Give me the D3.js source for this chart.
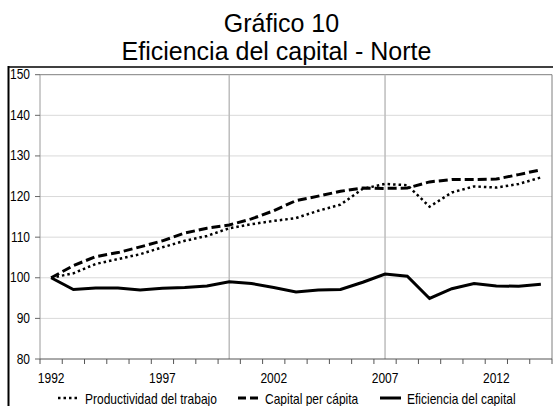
<!DOCTYPE html>
<html>
<head>
<meta charset="utf-8">
<style>
  body { margin: 0; background: #fff; }
  svg { display: block; font-family: 'Liberation Sans', Arial, sans-serif; }
</style>
</head>
<body>
<svg width="553" height="406"></svg>
<script src="https://d3js.org/d3.v7.min.js"></script>
<script>
// data (index 1992 = 100)
const years = ["1992","1993","1994","1995","1996","1997","1998","1999","2000","2001","2002","2003",
               "2004","2005","2006","2007","2008","2009","2010","2011","2012","2013","2014"];
const productividad = [100, 101.1, 103.4, 104.6, 105.8, 107.5, 109.1, 110.3, 112.2, 113.2, 114.0, 114.7,
                       116.5, 118.0, 121.9, 123.1, 122.8, 117.5, 121.0, 122.5, 122.2, 123.1, 124.7];
const capital = [100, 103.0, 105.2, 106.2, 107.6, 109.1, 111.0, 112.2, 113.0, 114.5, 116.5, 119.0,
                 120.1, 121.3, 122.1, 122.0, 122.1, 123.6, 124.2, 124.2, 124.3, 125.4, 126.6];
const eficiencia = [100, 97.1, 97.5, 97.5, 97.0, 97.4, 97.6, 98.0, 99.0, 98.6, 97.6, 96.5,
                    97.0, 97.1, 98.9, 100.9, 100.4, 94.9, 97.3, 98.6, 98.0, 97.9, 98.4];
const yTicks = [80, 90, 100, 110, 120, 130, 140, 150];
const xLabels = ["1992", "1997", "2002", "2007", "2012"];
const markerYears = ["2000", "2007"];
const seriesNames = ["Productividad del trabajo", "Capital per cápita", "Eficiencia del capital"];

const svg = d3.select("svg");
const margin = { top: 74.7, right: 1, bottom: 47, left: 40 };
const W = 553, H = 406;
const stretch = 1.28; // small text in the reference is drawn taller than wide

let x = d3.scaleBand().domain(years).range([margin.left, W - margin.right]);
let y = d3.scaleLinear().domain([80, 150]).range([H - margin.bottom, margin.top]);
const cx = d => x(d) + x.bandwidth() / 2;

function label(g, tx, ty, str, size, anchor) {
  return g.append("text")
    .attr("transform", `translate(${tx},${ty}) scale(1,${stretch})`)
    .attr("text-anchor", anchor)
    .style("font-size", size + "px")
    .style("fill", "#000")
    .text(str);
}

// outer frame
svg.append("line").attr("x1", 8.5).attr("x2", 8.5).attr("y1", 66).attr("y2", H)
  .style("stroke", "#000").style("stroke-width", 2);
svg.append("line").attr("x1", 8).attr("x2", W).attr("y1", 67).attr("y2", 67)
  .style("stroke", "#000").style("stroke-width", 1.5);

// title
svg.append("text").attr("x", 281.5).attr("y", 31.5).attr("text-anchor", "middle")
  .style("font-size", "25px").text("Gráfico 10");
svg.append("text").attr("x", 276.5).attr("y", 60).attr("text-anchor", "middle")
  .style("font-size", "25px").text("Eficiencia del capital - Norte");

// horizontal gridlines
svg.append("g").selectAll("line").data(yTicks.slice(1, -1)).join("line")
  .attr("x1", margin.left).attr("x2", W - margin.right)
  .attr("y1", d => y(d)).attr("y2", d => y(d))
  .style("stroke", "#d9d9d9").style("stroke-width", 1);

// plot border (top + right)
svg.append("path")
  .attr("d", `M${margin.left},${y(150)}H${W - margin.right}V${y(80)}`)
  .style("fill", "none").style("stroke", "#7f7f7f").style("stroke-width", 1);

// vertical markers
svg.append("g").selectAll("line").data(markerYears).join("line")
  .attr("x1", d => cx(d)).attr("x2", d => cx(d))
  .attr("y1", y(150)).attr("y2", y(80))
  .style("stroke", "#bdbdbd").style("stroke-width", 1.5);

// y axis
svg.append("line").attr("x1", margin.left).attr("x2", margin.left)
  .attr("y1", y(150)).attr("y2", y(80)).style("stroke", "#9a9a9a");
svg.append("g").selectAll("line").data(yTicks).join("line")
  .attr("x1", margin.left - 5).attr("x2", margin.left)
  .attr("y1", d => y(d)).attr("y2", d => y(d))
  .style("stroke", "#666");
const yl = svg.append("g");
yTicks.forEach(t => label(yl, 30, y(t) + 4.5, t, 12, "end"));

// x axis
svg.append("line").attr("x1", margin.left).attr("x2", W - margin.right)
  .attr("y1", y(80)).attr("y2", y(80)).style("stroke", "#555");
const tickPos = years.map(d => x(d)).concat([x.range()[1]]);
svg.append("g").selectAll("line").data(tickPos).join("line")
  .attr("x1", d => d).attr("x2", d => d)
  .attr("y1", y(80)).attr("y2", y(80) + 5)
  .style("stroke", "#555");
const xl = svg.append("g");
xLabels.forEach(d => label(xl, cx(d), 383, d, 12, "middle"));

// series lines
const styles = [
  { data: productividad, width: 2.5, dash: "2.5,3" },
  { data: capital, width: 3, dash: "9,4" },
  { data: eficiencia, width: 3, dash: null }
];
const line = d3.line().x((d, i) => cx(years[i])).y(d => y(d));
styles.forEach(s => {
  svg.append("path").datum(s.data)
    .attr("d", line)
    .style("fill", "none").style("stroke", "#000")
    .style("stroke-width", s.width)
    .style("stroke-dasharray", s.dash);
});

// legend
const legendX = [58, 238, 380];
const lg = svg.append("g");
styles.forEach((s, i) => {
  lg.append("line")
    .attr("x1", legendX[i]).attr("x2", legendX[i] + 21)
    .attr("y1", 398).attr("y2", 398)
    .style("stroke", "#000").style("stroke-width", s.width)
    .style("stroke-dasharray", s.dash ? (i === 0 ? "2.5,3" : "8,4") : null);
  label(lg, legendX[i] + 27, 403.5, seriesNames[i], 12, "start");
});
</script>
</body>
</html>
